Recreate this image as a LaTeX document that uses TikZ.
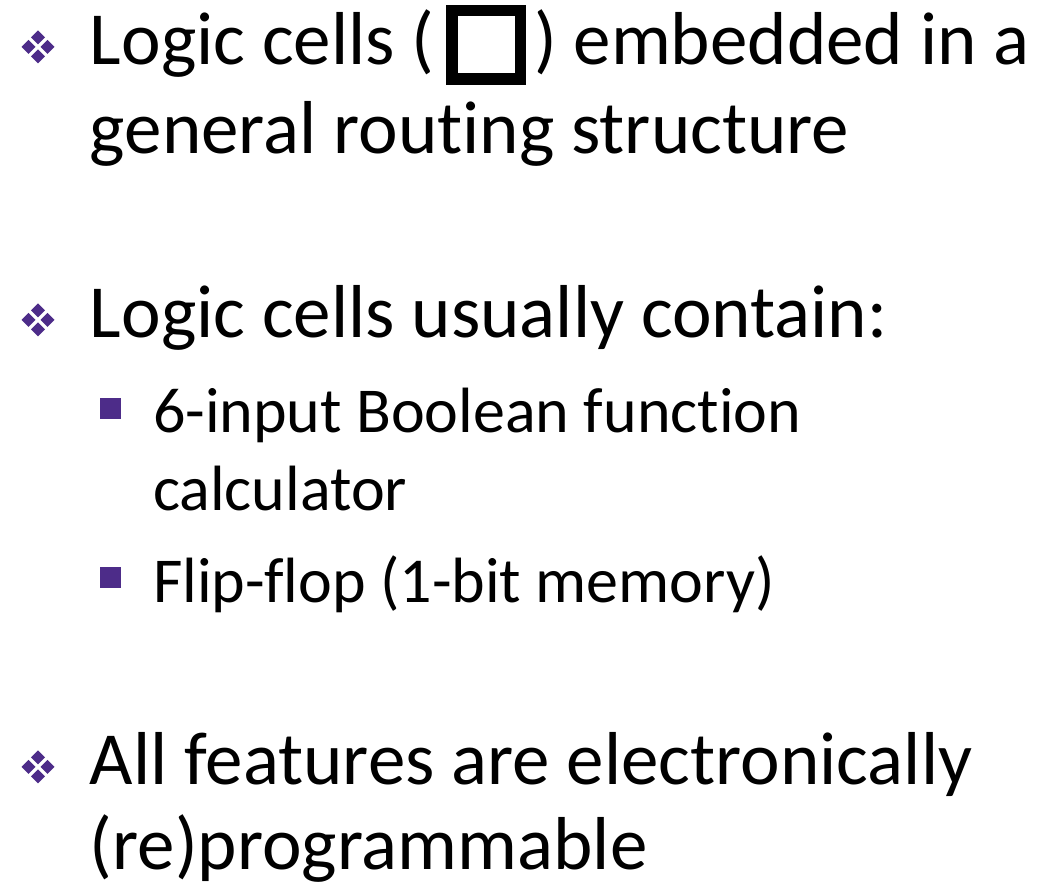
\documentclass[tikz,border=0pt]{standalone}
\usepackage{fontspec}
\setmainfont{Carlito}[Ligatures=NoCommon]
\usepackage{tikz}

\definecolor{bulletpurple}{RGB}{77,44,137}

\begin{document}
\begin{tikzpicture}[x=0.5pt,y=-0.5pt,
  every node/.style={inner sep=0pt,outer sep=0pt,anchor=base west},
  main/.style={font=\fontsize{37.5}{45}\selectfont},
  sub/.style={font=\fontsize{32}{39}\selectfont},
  subbullet/.style={fill=bulletpurple,minimum size=10.5pt,anchor=center},
  cell/.style={draw,line width=5.75pt,minimum size=34.25pt,anchor=center},
  diabullet/.pic={
    \foreach \dx/\dy in {0/-9.5,9.5/0,0/9.5,-9.5/0}
      \fill[bulletpurple] (\dx,\dy) +(0,-7) -- +(7,0) -- +(0,7) -- +(-7,0) -- cycle;
  }]

  \useasboundingbox (0,0) rectangle (1046,887);

  % first bullet
  \pic at (38,47) {diabullet};
  \node[main] (l1a) at (90,65) {Logic cells (};
  \node[cell] (cellbox) at (486,44.75) {};
  \node[main] (l1b) at (534,65) {) embedded in a};
  \node[main] (l2) at (90,154) {general routing structure};

  % second bullet
  \pic at (38,320) {diabullet};
  \node[main] (l3) at (90,338) {Logic cells usually contain:};
  \node[subbullet] (sq1) at (110.5,408.5) {};
  \node[sub] (s1a) at (153,433) {6-input Boolean function};
  \node[sub] (s1b) at (153,511) {calculator};
  \node[subbullet] (sq2) at (110.5,577.5) {};
  \node[sub] (s2) at (153,603) {Flip-flop (1-bit memory)};

  % third bullet
  \pic at (38,767) {diabullet};
  \node[main] (l4) at (90,785) {All features are electronically};
  \node[main] (l5) at (90,870) {(re)programmable};
\end{tikzpicture}
\end{document}
